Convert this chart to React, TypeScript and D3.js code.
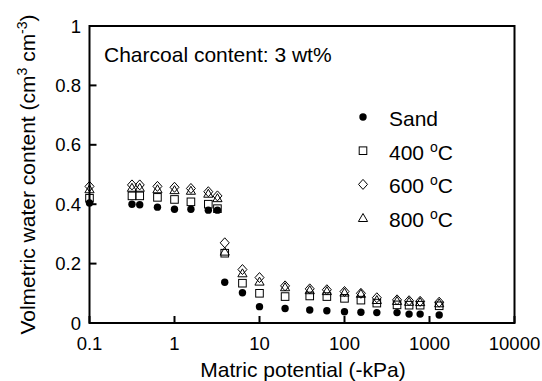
import React from "react";
import * as d3 from "d3";

const potentials = [0.1, 0.316, 0.39, 0.63, 1.0, 1.56, 2.5, 3.2, 3.9, 6.3, 10, 20, 39, 62, 100, 156, 240, 415, 575, 776, 1300];
const sand = [0.404, 0.4, 0.398, 0.39, 0.383, 0.383, 0.38, 0.38, 0.137, 0.102, 0.055, 0.049, 0.044, 0.041, 0.038, 0.036, 0.035, 0.035, 0.03, 0.03, 0.027];
const c400 = [0.42, 0.428, 0.428, 0.423, 0.416, 0.408, 0.4, 0.385, 0.235, 0.134, 0.1, 0.089, 0.091, 0.089, 0.083, 0.077, 0.067, 0.061, 0.06, 0.06, 0.058];
const c600 = [0.46, 0.465, 0.465, 0.46, 0.457, 0.453, 0.442, 0.428, 0.27, 0.18, 0.153, 0.125, 0.115, 0.112, 0.106, 0.1, 0.085, 0.078, 0.075, 0.073, 0.07];
const c800 = [0.45, 0.455, 0.455, 0.45, 0.447, 0.445, 0.435, 0.42, 0.24, 0.167, 0.139, 0.12, 0.11, 0.107, 0.102, 0.098, 0.077, 0.074, 0.071, 0.07, 0.066];
const xTicks = [0.1, 1, 10, 100, 1000, 10000];
const xTickLabels = ["0.1", "1", "10", "100", "1000", "10000"];
const yTicks = [0, 0.2, 0.4, 0.6, 0.8, 1];
const yTickLabels = ["0", "0.2", "0.4", "0.6", "0.8", "1"];
const legendLabels = ["Sand", "400", "600", "800"];

const W = 542, H = 381;
const left = 89.5, right = 514.5, top = 26, bottom = 323;
const FONT = "'Liberation Sans', Arial, Helvetica, sans-serif";

type Kind = "circle" | "square" | "diamond" | "triangle";

function Marker({ kind, x, y }: { kind: Kind; x: number; y: number }) {
  if (kind === "circle") return <circle cx={x} cy={y} r={3.7} fill="#000" />;
  if (kind === "square")
    return <rect x={x - 3.8} y={y - 3.8} width={7.6} height={7.6} fill="none" stroke="#000" strokeWidth={1} />;
  if (kind === "diamond")
    return <path d={`M${x},${y - 5}L${x + 4.5},${y}L${x},${y + 5}L${x - 4.5},${y}Z`} fill="none" stroke="#000" strokeWidth={1} />;
  return <path d={`M${x},${y - 4.6}L${x + 4.6},${y + 3.4}L${x - 4.6},${y + 3.4}Z`} fill="none" stroke="#000" strokeWidth={1} />;
}

export default function App() {
  const x = d3.scaleLog().domain([0.1, 10000]).range([left, right]);
  const y = d3.scaleLinear().domain([0, 1]).range([bottom, top]);
  const series: { kind: Kind; values: number[] }[] = [
    { kind: "circle", values: sand },
    { kind: "square", values: c400 },
    { kind: "triangle", values: c800 },
    { kind: "diamond", values: c600 },
  ];
  const legendKinds: Kind[] = ["circle", "square", "diamond", "triangle"];
  const tickFont = 18.5;
  const bigFont = 21;

  return (
    <svg width={W} height={H} style={{ position: "absolute", left: 0, top: 0, background: "#fff" }} fontFamily={FONT}>
      <rect x={0} y={0} width={W} height={H} fill="#fff" />
      {/* ticks */}
      {xTicks.map((t) => (
        <line key={"xt" + t} x1={x(t)} x2={x(t)} y1={bottom} y2={bottom - 7} stroke="#000" strokeWidth={2} />
      ))}
      {yTicks.map((t) => (
        <line key={"yt" + t} x1={left} x2={left + 7} y1={y(t)} y2={y(t)} stroke="#000" strokeWidth={2} />
      ))}
      <rect x={left} y={top} width={right - left} height={bottom - top} fill="none" stroke="#000" strokeWidth={2} />
      {xTicks.map((t, i) => (
        <text key={"xl" + t} x={x(t)} y={350} textAnchor="middle" fontSize={tickFont} fill="#000">
          {xTickLabels[i]}
        </text>
      ))}
      {yTicks.map((t, i) => (
        <text key={"yl" + t} x={81} y={y(t) + 6.5} textAnchor="end" fontSize={tickFont} fill="#000">
          {yTickLabels[i]}
        </text>
      ))}
      <text x={303} y={377} textAnchor="middle" fontSize={bigFont} fill="#000">
        Matric potential (-kPa)
      </text>
      <text transform={`translate(35,${(top + bottom) / 2}) rotate(-90)`} textAnchor="middle" fontSize={bigFont} fill="#000">
        Volmetric water content (cm
        <tspan dy={-8} fontSize={14}>3</tspan>
        <tspan dy={8}> cm</tspan>
        <tspan dy={-8} fontSize={14}>-3</tspan>
        <tspan dy={8}>)</tspan>
      </text>
      <text x={104} y={62} fontSize={bigFont} fill="#000">
        Charcoal content: 3 wt%
      </text>
      {/* data */}
      {series.map((s) =>
        s.values.map((v, i) => <Marker key={s.kind + i} kind={s.kind} x={x(potentials[i])} y={y(v)} />)
      )}
      {/* legend */}
      {legendKinds.map((k, i) => {
        const cy = 117 + i * 33.7;
        return (
          <g key={"lg" + k}>
            <Marker kind={k} x={363} y={cy} />
            <text x={389} y={cy + 9} fontSize={bigFont} fill="#000">
              {i === 0 ? (
                legendLabels[0]
              ) : (
                <>
                  {legendLabels[i]}{" "}
                  <tspan dy={-8} fontSize={14}>o</tspan>
                  <tspan dy={8}>C</tspan>
                </>
              )}
            </text>
          </g>
        );
      })}
    </svg>
  );
}
